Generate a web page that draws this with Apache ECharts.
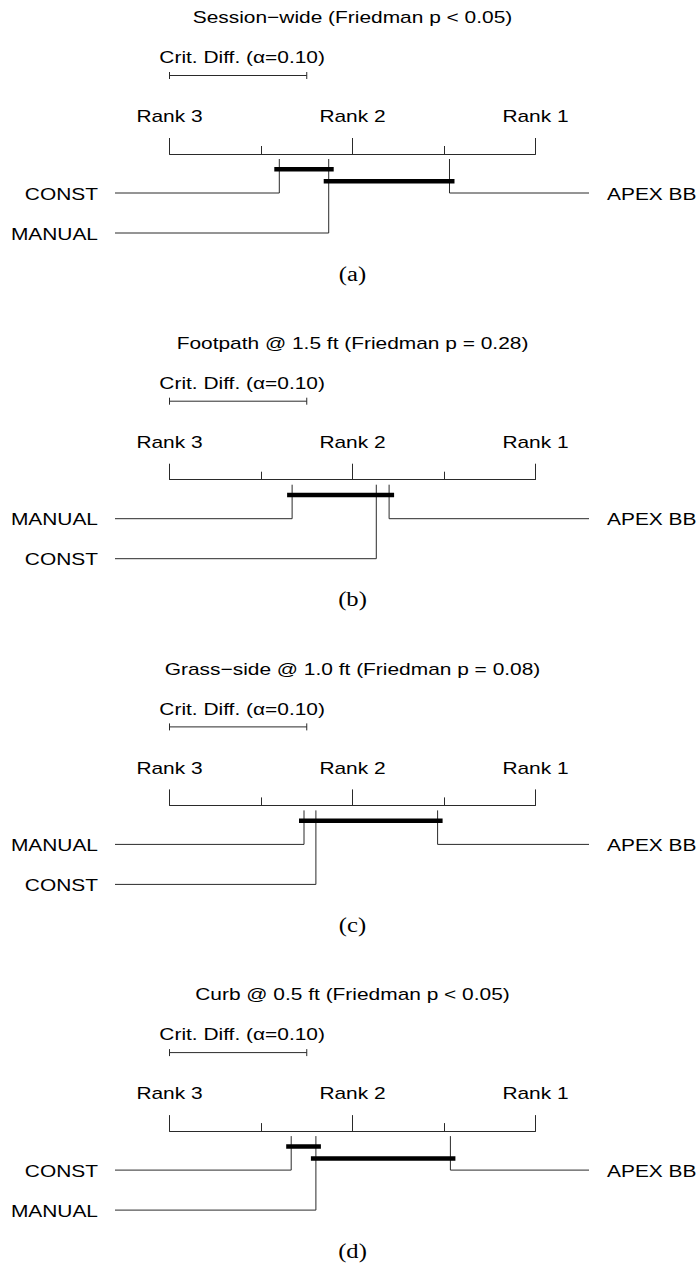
<!DOCTYPE html>
<html>
<head>
<meta charset="utf-8">
<script src="https://cdn.jsdelivr.net/npm/echarts@6/dist/echarts.min.js"></script>
<style>
html,body{margin:0;padding:0;background:#fff;}
#chart{width:699px;height:1266px;}
</style>
</head>
<body>
<div id="chart"></div>
<script>
// ---------------- data ----------------
const panelTitles = [
  'Session\u2212wide (Friedman p < 0.05)',
  'Footpath @ 1.5 ft (Friedman p = 0.28)',
  'Grass\u2212side @ 1.0 ft (Friedman p = 0.08)',
  'Curb @ 0.5 ft (Friedman p < 0.05)'
];
const captions = ['(a)', '(b)', '(c)', '(d)'];
const methods = ['CONST', 'MANUAL', 'APEX BB'];
// average ranks per panel, in the order of `methods`
const ranksA = [2.40, 2.13, 1.47];
const ranksB = [1.87, 2.33, 1.80];
const ranksC = [2.20, 2.265, 1.535];
const ranksD = [2.335, 2.20, 1.465];
// groups with no significant difference (endpoints by method name)
const cliquesA = [['CONST', 'MANUAL'], ['MANUAL', 'APEX BB']];
const cliquesB = [['MANUAL', 'APEX BB']];
const cliquesC = [['MANUAL', 'APEX BB']];
const cliquesD = [['CONST', 'MANUAL'], ['MANUAL', 'APEX BB']];
const critDiff = 0.75;
const critDiffLabel = 'Crit. Diff. (\u03b1=0.10)';
const rankTicks = [3, 2, 1];
const rankTickLabels = ['Rank 3', 'Rank 2', 'Rank 1'];

const allRanks = [ranksA, ranksB, ranksC, ranksD];
const allCliques = [cliquesA, cliquesB, cliquesC, cliquesD];

// ---------------- layout / style ----------------
const AXIS_LEFT = 169.5, AXIS_RIGHT = 535.5;
const AXIS_Y0 = 154, PANEL_STEP = 325.7;
const SANS = '"Liberation Sans", Arial, Helvetica, sans-serif';
const SERIF = '"Liberation Serif", "Times New Roman", serif';
const SX = 1.23;           // horizontal text stretch of the reference
const LINE = '#2a2a2a';
const FS = 17;

const chart = echarts.init(document.getElementById('chart'), null, {renderer: 'svg'});

const grids = [], xAxes = [], yAxes = [], series = [], graphics = [];
const centerX = (AXIS_LEFT + AXIS_RIGHT) / 2;

function txt(text, x, y, align, font, size) {
  return {
    type: 'text', x: x, y: y, scaleX: SX, silent: true,
    style: {text: text, x: 0, y: 0, align: align, verticalAlign: 'middle',
            fontFamily: font, fontSize: size, fill: '#000'}
  };
}

for (let p = 0; p < 4; p++) {
  const axisY = AXIS_Y0 + p * PANEL_STEP;
  grids.push({left: AXIS_LEFT, width: AXIS_RIGHT - AXIS_LEFT, top: axisY, height: 90,
              outerBoundsMode: 'none', containLabel: false});
  xAxes.push({
    gridIndex: p, type: 'value', min: 1, max: 3, interval: 1, inverse: true, position: 'top',
    axisLine: {show: true, onZero: false, lineStyle: {color: LINE, width: 1}},
    axisTick: {show: true, length: 16, lineStyle: {color: LINE, width: 1}},
    minorTick: {show: true, splitNumber: 2, length: 8, lineStyle: {color: LINE, width: 1}},
    axisLabel: {show: false}, splitLine: {show: false}, minorSplitLine: {show: false}
  });
  yAxes.push({gridIndex: p, type: 'value', min: 0, max: 1, show: false});

  const ranks = allRanks[p];
  // sort methods: worst half on the left, best half on the right
  const order = ranks.map((r, i) => i).sort((a, b) => ranks[b] - ranks[a]);
  const nLeft = Math.ceil(order.length / 2);
  const methodData = [];
  order.forEach((mi, k) => {
    if (k < nLeft) methodData.push([ranks[mi], 0, k, mi]);
    else methodData.push([ranks[mi], 1, order.length - 1 - k, mi]);
  });

  // method lines + labels
  series.push({
    type: 'custom', xAxisIndex: p, yAxisIndex: p, clip: false, silent: true, animation: false,
    data: methodData,
    renderItem: function (params, api) {
      const cs = params.coordSys;
      const r = api.value(0), side = api.value(1), row = api.value(2);
      const name = methods[api.value(3)];
      const x = api.coord([r, 0])[0];
      const yTop = cs.y + 5;
      const yRow = cs.y + 39 + 40 * row;
      const xEnd = side === 0 ? cs.x - 54.5 : cs.x + cs.width + 53.5;
      return {type: 'group', children: [
        {type: 'polyline', shape: {points: [[x, yTop], [x, yRow], [xEnd, yRow]]},
         style: {stroke: LINE, lineWidth: 1, fill: null}},
        txt(name, side === 0 ? xEnd - 17 : xEnd + 18, yRow + 1, side === 0 ? 'right' : 'left', SANS, FS)
      ]};
    }
  });

  // clique bars
  const cliqueData = allCliques[p].map((c, j) => [ranks[methods.indexOf(c[0])], ranks[methods.indexOf(c[1])], j]);
  series.push({
    type: 'custom', xAxisIndex: p, yAxisIndex: p, clip: false, silent: true, animation: false,
    data: cliqueData,
    renderItem: function (params, api) {
      const cs = params.coordSys;
      const xa = api.coord([api.value(0), 0])[0];
      const xb = api.coord([api.value(1), 0])[0];
      const y = cs.y + 15.3 + 12 * api.value(2);
      return {type: 'line',
        shape: {x1: Math.min(xa, xb) - 5, y1: y, x2: Math.max(xa, xb) + 5, y2: y},
        style: {stroke: '#000', lineWidth: 4.5}};
    }
  });

  // critical difference bar
  series.push({
    type: 'custom', xAxisIndex: p, yAxisIndex: p, clip: false, silent: true, animation: false,
    data: [[rankTicks[0], rankTicks[0] - critDiff]],
    renderItem: function (params, api) {
      const cs = params.coordSys;
      const xa = api.coord([api.value(0), 0])[0];
      const xb = api.coord([api.value(1), 0])[0];
      const y = cs.y - 78.5;
      return {type: 'group', children: [
        {type: 'line', shape: {x1: xa, y1: y, x2: xb, y2: y}, style: {stroke: LINE, lineWidth: 1}},
        {type: 'line', shape: {x1: xa, y1: y - 3.5, x2: xa, y2: y + 3.5}, style: {stroke: LINE, lineWidth: 1}},
        {type: 'line', shape: {x1: xb, y1: y - 3.5, x2: xb, y2: y + 3.5}, style: {stroke: LINE, lineWidth: 1}},
        txt(critDiffLabel, (xa + xb) / 2 + 4, cs.y - 96.5, 'center', SANS, FS)
      ]};
    }
  });

  // rank tick labels
  series.push({
    type: 'custom', xAxisIndex: p, yAxisIndex: p, clip: false, silent: true, animation: false,
    data: rankTicks.map((t, i) => [t, i]),
    renderItem: function (params, api) {
      const cs = params.coordSys;
      const x = api.coord([api.value(0), 0])[0];
      return txt(rankTickLabels[api.value(1)], x, cs.y - 37.5, 'center', SANS, FS);
    }
  });

  graphics.push(txt(panelTitles[p], centerX, axisY - 136.5, 'center', SANS, FS));
  graphics.push(txt(captions[p], centerX, axisY + 120, 'center', SERIF, 20));
}

chart.setOption({
  animation: false,
  backgroundColor: '#fff',
  grid: grids,
  xAxis: xAxes,
  yAxis: yAxes,
  series: series,
  graphic: {elements: graphics}
});
</script>
</body>
</html>
